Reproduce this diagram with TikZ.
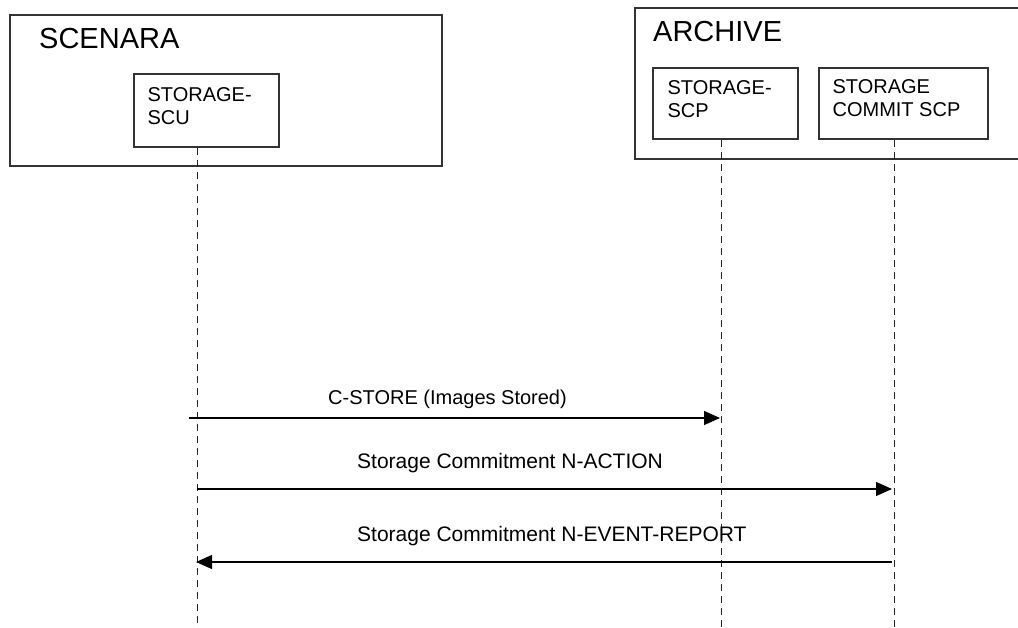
\documentclass[tikz,border=0pt]{standalone}
\usepackage{fontspec}
\setmainfont{Liberation Sans}
\usetikzlibrary{positioning,arrows.meta}
\tikzset{
  frame/.style={draw=black!80,line width=1.2pt},
  unit/.style={draw=black!80,line width=1.2pt,inner sep=0pt,minimum height=71pt},
  title/.style={anchor=base west,inner sep=0pt,font=\fontsize{29}{32}\selectfont},
  unittext/.style={align=left,inner sep=0pt,font=\fontsize{20}{22.6}\selectfont},
  msgtext/.style={anchor=base west,inner sep=0pt,font=\fontsize{21}{24}\selectfont},
  life/.style={draw=black!85,line width=0.9pt,dash pattern=on 7pt off 5pt},
  msg/.style={draw=black,line width=1.2pt,-{Triangle[length=16pt,width=14pt]}}
}
\begin{document}
\begin{tikzpicture}[x=1pt,y=-1pt]
\useasboundingbox (0,0) rectangle (1018,628);
\draw[frame] (10,15) rectangle (442,166);
\draw[frame] (635,8) rectangle (1040,159);
\node[title] (scenara) at (39,49) {SCENARA};
\node[title] (archive) at (653,42) {ARCHIVE};
\node[unit,minimum width=145pt,minimum height=73pt] (scu) at (206.5,110.5) {};
\node[unit,minimum width=145pt] (scp) at (725.5,103.5) {};
\node[unit,minimum width=169pt] (cmt) at (903.5,103.5) {};
\node[unittext,below right=14pt and 14pt of scu.north west] (scut) {STORAGE-\\SCU};
\node[unittext,below right=13pt and 15pt of scp.north west] (scpt) {STORAGE-\\SCP};
\node[unittext,below right=12pt and 14pt of cmt.north west] (cmtt) {STORAGE\\COMMIT SCP};
\coordinate (bot) at (0,628);
\foreach \n/\x in {scu/197,scp/721,cmt/894}{
  \coordinate (\n top) at (\x,0 |- \n.south);
  \draw[life] (\n top) -- (\n top |- bot);
}
\coordinate (c1) at (189,418);
\coordinate (scp1) at (720,418);
\coordinate (scu2) at (197,489);
\coordinate (cmt2) at (892,489);
\coordinate (cmt3) at (892,562);
\coordinate (scu3) at (196,562);
\draw[msg] (c1) -- (scp1);
\draw[msg] (scu2) -- (cmt2);
\draw[msg] (cmt3) -- (scu3);
\node[msgtext,font=\fontsize{20}{24}\selectfont] (m1) at (328,405) {C-STORE (Images Stored)};
\node[msgtext] (m2) at (357,468) {Storage Commitment N-ACTION};
\node[msgtext] (m3) at (357,541) {Storage Commitment N-EVENT-REPORT};
\end{tikzpicture}
\end{document}
